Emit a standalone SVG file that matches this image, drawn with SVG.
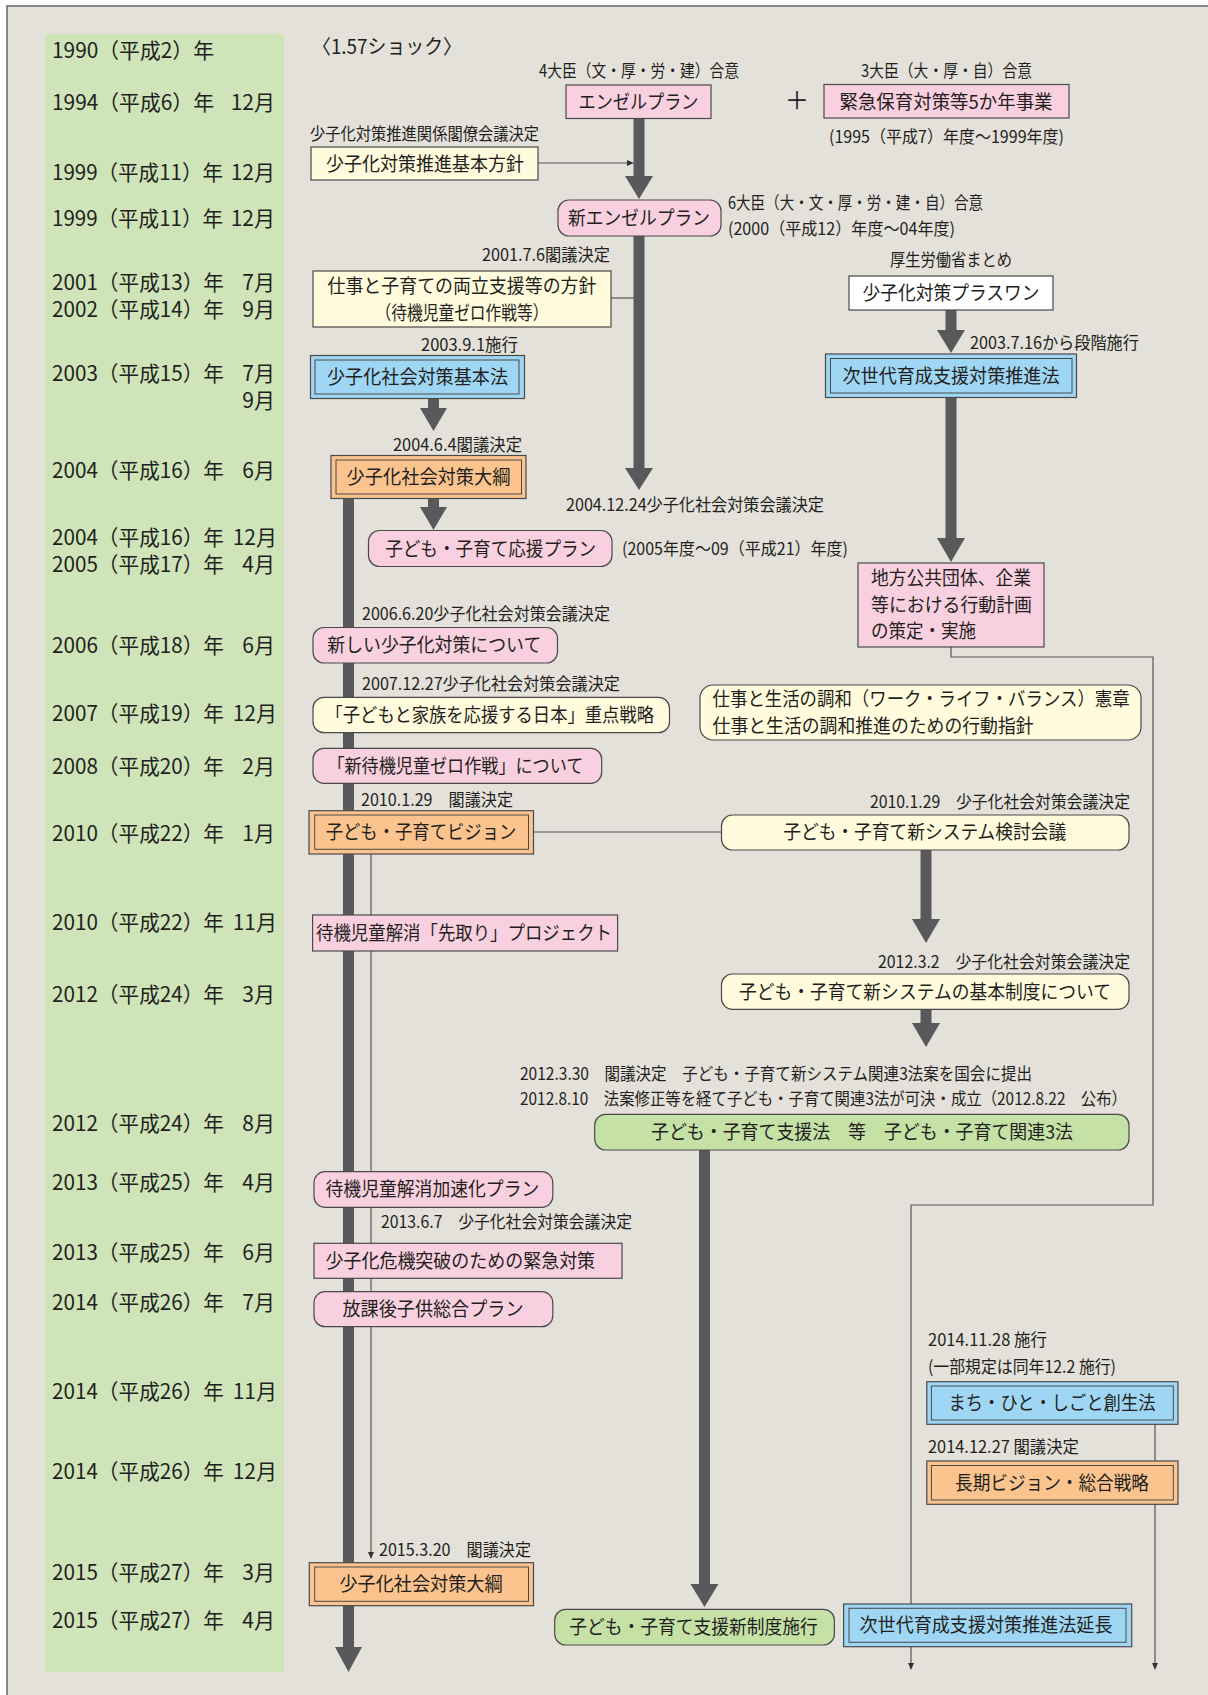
<svg xmlns="http://www.w3.org/2000/svg" width="1208" height="1695" viewBox="0 0 1208 1695">
<style>
text{font-family:"Noto Sans CJK JP","Noto Sans CJK SC",sans-serif;fill:#231f20}
.yr{font-size:21px}
.bx{font-size:19px}
.lb{font-size:17px}
.c{text-anchor:middle}
.e{text-anchor:end}
.box{stroke:#4a4a4a;stroke-width:1.2}
.pink{fill:#f9d0df}
.yel{fill:#fffbdc}
.blue{fill:#9fd6f3}
.org{fill:#fbc48e}
.grn{fill:#c6e1a6}
.wht{fill:#ffffff}
.inner{fill:none;stroke:#4a4a4a;stroke-width:1}
.arr{fill:#58595b}
.thin{fill:none;stroke:#555;stroke-width:1.2}
.tip{fill:#333}
</style>
<rect x="0" y="0" width="1208" height="1695" fill="#ffffff"/>
<rect x="7" y="6" width="1220" height="1710" fill="#e4e1da" stroke="#666" stroke-width="1.5"/>
<rect x="45" y="34" width="239" height="1638" fill="#cfe4b8"/>

<g id="years">
<text class="yr" x="52" y="58" textLength="162" lengthAdjust="spacingAndGlyphs">1990（平成2）年</text>
<text class="yr" x="52" y="110" textLength="162" lengthAdjust="spacingAndGlyphs">1994（平成6）年</text><text class="yr e" x="275" y="110">12月</text>
<text class="yr" x="52" y="180" textLength="171" lengthAdjust="spacingAndGlyphs">1999（平成11）年</text><text class="yr e" x="275" y="180">12月</text>
<text class="yr" x="52" y="226" textLength="171" lengthAdjust="spacingAndGlyphs">1999（平成11）年</text><text class="yr e" x="275" y="226">12月</text>
<text class="yr" x="52" y="290" textLength="172" lengthAdjust="spacingAndGlyphs">2001（平成13）年</text><text class="yr e" x="275" y="290">7月</text>
<text class="yr" x="52" y="317" textLength="172" lengthAdjust="spacingAndGlyphs">2002（平成14）年</text><text class="yr e" x="275" y="317">9月</text>
<text class="yr" x="52" y="381" textLength="172" lengthAdjust="spacingAndGlyphs">2003（平成15）年</text><text class="yr e" x="275" y="381">7月</text>
<text class="yr e" x="275" y="408">9月</text>
<text class="yr" x="52" y="478" textLength="172" lengthAdjust="spacingAndGlyphs">2004（平成16）年</text><text class="yr e" x="275" y="478">6月</text>
<text class="yr" x="52" y="545" textLength="172" lengthAdjust="spacingAndGlyphs">2004（平成16）年</text><text class="yr e" x="277" y="545">12月</text>
<text class="yr" x="52" y="572" textLength="172" lengthAdjust="spacingAndGlyphs">2005（平成17）年</text><text class="yr e" x="275" y="572">4月</text>
<text class="yr" x="52" y="653" textLength="172" lengthAdjust="spacingAndGlyphs">2006（平成18）年</text><text class="yr e" x="275" y="653">6月</text>
<text class="yr" x="52" y="721" textLength="172" lengthAdjust="spacingAndGlyphs">2007（平成19）年</text><text class="yr e" x="277" y="721">12月</text>
<text class="yr" x="52" y="774" textLength="172" lengthAdjust="spacingAndGlyphs">2008（平成20）年</text><text class="yr e" x="275" y="774">2月</text>
<text class="yr" x="52" y="841" textLength="172" lengthAdjust="spacingAndGlyphs">2010（平成22）年</text><text class="yr e" x="275" y="841">1月</text>
<text class="yr" x="52" y="930" textLength="172" lengthAdjust="spacingAndGlyphs">2010（平成22）年</text><text class="yr e" x="277" y="930">11月</text>
<text class="yr" x="52" y="1002" textLength="172" lengthAdjust="spacingAndGlyphs">2012（平成24）年</text><text class="yr e" x="275" y="1002">3月</text>
<text class="yr" x="52" y="1131" textLength="172" lengthAdjust="spacingAndGlyphs">2012（平成24）年</text><text class="yr e" x="275" y="1131">8月</text>
<text class="yr" x="52" y="1190" textLength="172" lengthAdjust="spacingAndGlyphs">2013（平成25）年</text><text class="yr e" x="275" y="1190">4月</text>
<text class="yr" x="52" y="1260" textLength="172" lengthAdjust="spacingAndGlyphs">2013（平成25）年</text><text class="yr e" x="275" y="1260">6月</text>
<text class="yr" x="52" y="1310" textLength="172" lengthAdjust="spacingAndGlyphs">2014（平成26）年</text><text class="yr e" x="275" y="1310">7月</text>
<text class="yr" x="52" y="1399" textLength="172" lengthAdjust="spacingAndGlyphs">2014（平成26）年</text><text class="yr e" x="277" y="1399">11月</text>
<text class="yr" x="52" y="1479" textLength="172" lengthAdjust="spacingAndGlyphs">2014（平成26）年</text><text class="yr e" x="277" y="1479">12月</text>
<text class="yr" x="52" y="1580" textLength="172" lengthAdjust="spacingAndGlyphs">2015（平成27）年</text><text class="yr e" x="275" y="1580">3月</text>
<text class="yr" x="52" y="1628" textLength="172" lengthAdjust="spacingAndGlyphs">2015（平成27）年</text><text class="yr e" x="275" y="1628">4月</text>
</g>

<g id="connectors">
<path class="thin" d="M538 163H627"/><polygon class="tip" points="627,160 634,163 627,166"/>
<path class="thin" d="M611 298H639"/>
<path class="thin" d="M533.5 832H721.5"/>
<path class="thin" d="M371 854V1552"/><polygon class="tip" points="368,1552 374,1552 371,1559"/>
<path class="thin" d="M951 647V657H1153V1205H911V1663"/><polygon class="tip" points="908,1663 914,1663 911,1670"/>
<path class="thin" d="M1155 1424V1663"/><polygon class="tip" points="1152,1663 1158,1663 1155,1670"/>
<path class="arr" d="M633.5 118H644.5V176H653L639 199L625 176H633.5Z"/>
<path class="arr" d="M633.5 236H644.5V468H653L639 490L625 468H633.5Z"/>
<path class="arr" d="M945.5 310H956.5V330H965L951 353L937 330H945.5Z"/>
<path class="arr" d="M945.5 397H956.5V538H965L951 562L937 538H945.5Z"/>
<path class="arr" d="M428 398H439V408H447L433.5 431L420 408H428Z"/>
<path class="arr" d="M428 498H439V507H447L433.5 530L420 507H428Z"/>
<path class="arr" d="M343 498H354V1647H362L348.5 1672L335 1647H343Z"/>
<path class="arr" d="M920.5 850H931.5V919H940L926 943L912 919H920.5Z"/>
<path class="arr" d="M920.5 1009H931.5V1023H940L926 1047L912 1023H920.5Z"/>
<path class="arr" d="M699 1150H710V1584H718.5L704.5 1607L690.5 1584H699Z"/>
</g>

<g id="labels">
<text x="312" y="54" style="font-size:20px" textLength="150" lengthAdjust="spacingAndGlyphs">〈1.57ショック〉</text>
<text class="lb" x="539" y="77" textLength="200" lengthAdjust="spacingAndGlyphs">4大臣（文・厚・労・建）合意</text>
<text x="797" y="109" class="c" style="font-size:24px">＋</text>
<text class="lb" x="861" y="77" textLength="171" lengthAdjust="spacingAndGlyphs">3大臣（大・厚・自）合意</text>
<text class="lb" x="829" y="143" textLength="235" lengthAdjust="spacingAndGlyphs">(1995（平成7）年度～1999年度)</text>
<text class="lb" x="310" y="140" textLength="229" lengthAdjust="spacingAndGlyphs">少子化対策推進関係閣僚会議決定</text>
<text class="lb" x="728" y="209" textLength="255" lengthAdjust="spacingAndGlyphs">6大臣（大・文・厚・労・建・自）合意</text>
<text class="lb" x="728" y="235" textLength="227" lengthAdjust="spacingAndGlyphs">(2000（平成12）年度～04年度)</text>
<text class="lb" x="482" y="261" textLength="128" lengthAdjust="spacingAndGlyphs">2001.7.6閣議決定</text>
<text class="lb" x="890" y="266" textLength="122" lengthAdjust="spacingAndGlyphs">厚生労働省まとめ</text>
<text class="lb" x="970" y="349" textLength="169" lengthAdjust="spacingAndGlyphs">2003.7.16から段階施行</text>
<text class="lb" x="421" y="351" textLength="97" lengthAdjust="spacingAndGlyphs">2003.9.1施行</text>
<text class="lb" x="393" y="451" textLength="129" lengthAdjust="spacingAndGlyphs">2004.6.4閣議決定</text>
<text class="lb" x="566" y="511" textLength="258" lengthAdjust="spacingAndGlyphs">2004.12.24少子化社会対策会議決定</text>
<text class="lb" x="622" y="555" textLength="226" lengthAdjust="spacingAndGlyphs">(2005年度～09（平成21）年度)</text>
<text class="lb" x="362" y="620" textLength="248" lengthAdjust="spacingAndGlyphs">2006.6.20少子化社会対策会議決定</text>
<text class="lb" x="362" y="690" textLength="258" lengthAdjust="spacingAndGlyphs">2007.12.27少子化社会対策会議決定</text>
<text class="lb" x="361" y="806" textLength="152" lengthAdjust="spacingAndGlyphs">2010.1.29　閣議決定</text>
<text class="lb" x="870" y="808" textLength="260" lengthAdjust="spacingAndGlyphs">2010.1.29　少子化社会対策会議決定</text>
<text class="lb" x="878" y="968" textLength="252" lengthAdjust="spacingAndGlyphs">2012.3.2　少子化社会対策会議決定</text>
<text class="lb" x="520" y="1080" textLength="512" lengthAdjust="spacingAndGlyphs">2012.3.30　閣議決定　子ども・子育て新システム関連3法案を国会に提出</text>
<text class="lb" x="520" y="1105" textLength="607" lengthAdjust="spacingAndGlyphs">2012.8.10　法案修正等を経て子ども・子育て関連3法が可決・成立（2012.8.22　公布）</text>
<text class="lb" x="381" y="1228" textLength="251" lengthAdjust="spacingAndGlyphs">2013.6.7　少子化社会対策会議決定</text>
<text class="lb" x="928" y="1346" textLength="119" lengthAdjust="spacingAndGlyphs">2014.11.28 施行</text>
<text class="lb" x="928" y="1373" textLength="188" lengthAdjust="spacingAndGlyphs">(一部規定は同年12.2 施行)</text>
<text class="lb" x="928" y="1453" textLength="151" lengthAdjust="spacingAndGlyphs">2014.12.27 閣議決定</text>
<text class="lb" x="379" y="1556" textLength="152" lengthAdjust="spacingAndGlyphs">2015.3.20　閣議決定</text>
</g>

<g id="n-angel"><rect class="box pink" x="566" y="85" width="145" height="33.5"/><text class="bx c" x="638.5" y="108.5" textLength="120" lengthAdjust="spacingAndGlyphs">エンゼルプラン</text></g>
<g id="n-kinkyu"><rect class="box pink" x="824" y="84.5" width="245" height="33.5"/><text class="bx c" x="946" y="108.5" textLength="213" lengthAdjust="spacingAndGlyphs">緊急保育対策等5か年事業</text></g>
<g id="n-kihonhoshin"><rect class="box yel" x="311" y="147" width="227" height="33"/><text class="bx c" x="425" y="170.5" textLength="198" lengthAdjust="spacingAndGlyphs">少子化対策推進基本方針</text></g>
<g id="n-shinangel"><rect class="box pink" x="558" y="200" width="163" height="36" rx="11"/><text class="bx c" x="639" y="225" textLength="142" lengthAdjust="spacingAndGlyphs">新エンゼルプラン</text></g>
<g id="n-ryoritsu"><rect class="box yel" x="313" y="271" width="298" height="56"/><text class="bx c" x="462" y="293" textLength="269" lengthAdjust="spacingAndGlyphs">仕事と子育ての両立支援等の方針</text><text class="bx c" x="462" y="320" textLength="173" lengthAdjust="spacingAndGlyphs">（待機児童ゼロ作戦等）</text></g>
<g id="n-plusone"><rect class="box wht" x="849" y="276" width="204" height="34"/><text class="bx c" x="951" y="300" textLength="177" lengthAdjust="spacingAndGlyphs">少子化対策プラスワン</text></g>
<g id="n-jisedai"><rect class="box blue" x="825.5" y="354" width="251" height="43.5"/><rect class="inner" x="830.5" y="358.5" width="241.5" height="34.5"/><text class="bx c" x="951" y="382.5" textLength="217" lengthAdjust="spacingAndGlyphs">次世代育成支援対策推進法</text></g>
<g id="n-chiho"><rect class="box pink" x="858" y="563" width="186" height="84"/><text class="bx" x="871" y="585" textLength="160" lengthAdjust="spacingAndGlyphs">地方公共団体、企業</text><text class="bx" x="871" y="612" textLength="161" lengthAdjust="spacingAndGlyphs">等における行動計画</text><text class="bx" x="871" y="638" textLength="105" lengthAdjust="spacingAndGlyphs">の策定・実施</text></g>
<g id="n-kihonho"><rect class="box blue" x="310.5" y="355.5" width="214" height="43"/><rect class="inner" x="315" y="360" width="204" height="34"/><text class="bx c" x="417.5" y="384" textLength="181" lengthAdjust="spacingAndGlyphs">少子化社会対策基本法</text></g>
<g id="n-taiko2004"><rect class="box org" x="331" y="455.5" width="195" height="43"/><rect class="inner" x="336" y="460" width="185.5" height="34"/><text class="bx c" x="428.5" y="484" textLength="164" lengthAdjust="spacingAndGlyphs">少子化社会対策大綱</text></g>
<g id="n-oen"><rect class="box pink" x="368.5" y="530.5" width="243.5" height="36" rx="11"/><text class="bx c" x="490.7" y="555.5" textLength="211" lengthAdjust="spacingAndGlyphs">子ども・子育て応援プラン</text></g>
<g id="n-atarashii"><rect class="box pink" x="313" y="627.5" width="244.5" height="35.5" rx="11"/><text class="bx c" x="434.3" y="652.3" textLength="214" lengthAdjust="spacingAndGlyphs">新しい少子化対策について</text></g>
<g id="n-juten"><rect class="box yel" x="313" y="697.3" width="356.5" height="35.4" rx="11"/><text class="bx" x="325.5" y="722" textLength="328.5" lengthAdjust="spacingAndGlyphs">「子どもと家族を応援する日本」重点戦略</text></g>
<g id="n-wlb"><rect class="box yel" x="700" y="685" width="441" height="55" rx="13"/><text class="bx" x="712.6" y="705.5" textLength="417" lengthAdjust="spacingAndGlyphs">仕事と生活の調和（ワーク・ライフ・バランス）憲章</text><text class="bx" x="712.6" y="732.5" textLength="321" lengthAdjust="spacingAndGlyphs">仕事と生活の調和推進のための行動指針</text></g>
<g id="n-shintaiki"><rect class="box pink" x="313" y="748.3" width="288.7" height="35" rx="11"/><text class="bx" x="327.4" y="772.6" textLength="256" lengthAdjust="spacingAndGlyphs">「新待機児童ゼロ作戦」について</text></g>
<g id="n-vision"><rect class="box org" x="309" y="810.7" width="224.5" height="43.3"/><rect class="inner" x="314.7" y="815" width="213.8" height="34.3"/><text class="bx c" x="421" y="839.3" textLength="190.7" lengthAdjust="spacingAndGlyphs">子ども・子育てビジョン</text></g>
<g id="n-kentou"><rect class="box yel" x="721.5" y="815" width="407.5" height="35" rx="11"/><text class="bx c" x="924.7" y="839.3" textLength="283" lengthAdjust="spacingAndGlyphs">子ども・子育て新システム検討会議</text></g>
<g id="n-sakidori"><rect class="box pink" x="312.6" y="915" width="305" height="36"/><text class="bx" x="316" y="940" textLength="296" lengthAdjust="spacingAndGlyphs">待機児童解消「先取り」プロジェクト</text></g>
<g id="n-kihonseido"><rect class="box yel" x="721.5" y="974" width="407.5" height="35.3" rx="11"/><text class="bx c" x="925" y="998.5" textLength="372" lengthAdjust="spacingAndGlyphs">子ども・子育て新システムの基本制度について</text></g>
<g id="n-3ho"><rect class="box grn" x="594.7" y="1114.3" width="534.3" height="35.7" rx="11"/><text class="bx c" x="862" y="1139" textLength="422" lengthAdjust="spacingAndGlyphs">子ども・子育て支援法　等　子ども・子育て関連3法</text></g>
<g id="n-kasoku"><rect class="box pink" x="314" y="1171.7" width="238.8" height="35.6" rx="11"/><text class="bx" x="325.5" y="1196.3" textLength="213.8" lengthAdjust="spacingAndGlyphs">待機児童解消加速化プラン</text></g>
<g id="n-kinkyutaisaku"><rect class="box pink" x="314" y="1243.3" width="308" height="35"/><text class="bx" x="325.5" y="1267.6" textLength="269.6" lengthAdjust="spacingAndGlyphs">少子化危機突破のための緊急対策</text></g>
<g id="n-houkago"><rect class="box pink" x="314" y="1291.7" width="238.8" height="35" rx="11"/><text class="bx c" x="433" y="1316" textLength="181" lengthAdjust="spacingAndGlyphs">放課後子供総合プラン</text></g>
<g id="n-machi"><rect class="box blue" x="926.8" y="1381.7" width="251.2" height="42.6"/><rect class="inner" x="931.4" y="1386" width="241.9" height="34"/><text class="bx c" x="1052" y="1410" textLength="207" lengthAdjust="spacingAndGlyphs">まち・ひと・しごと創生法</text></g>
<g id="n-choki"><rect class="box org" x="926.8" y="1461" width="251.2" height="43.3"/><rect class="inner" x="931.4" y="1465.5" width="241.9" height="34.5"/><text class="bx c" x="1052" y="1489.5" textLength="194" lengthAdjust="spacingAndGlyphs">長期ビジョン・総合戦略</text></g>
<g id="n-taiko2015"><rect class="box org" x="309.3" y="1562.7" width="224.2" height="43"/><rect class="inner" x="314.7" y="1567" width="213.8" height="34.3"/><text class="bx c" x="421" y="1591" textLength="163" lengthAdjust="spacingAndGlyphs">少子化社会対策大綱</text></g>
<g id="n-shinseido"><rect class="box grn" x="554.7" y="1609.3" width="279.7" height="35.7" rx="11"/><text class="bx c" x="693.5" y="1634" textLength="248.5" lengthAdjust="spacingAndGlyphs">子ども・子育て支援新制度施行</text></g>
<g id="n-jisedai-encho"><rect class="box blue" x="843.6" y="1604" width="288.1" height="42.7"/><rect class="inner" x="849" y="1608.3" width="277" height="34"/><text class="bx c" x="986" y="1632" textLength="253" lengthAdjust="spacingAndGlyphs">次世代育成支援対策推進法延長</text></g>
</svg>
